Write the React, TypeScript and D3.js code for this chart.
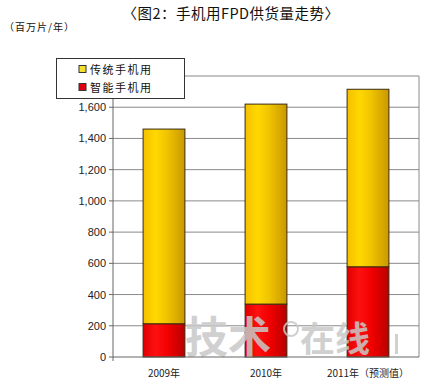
import { useMemo } from 'react'
import * as d3 from 'd3'

const W = 424
const H = 392
const PLOT = { left: 113, right: 419, top: 76, bottom: 357 }

const CATEGORIES = ['2009年', '2010年', '2011年（预测值）']
const SMART = [213, 339, 578]
const TRADITIONAL = [1247, 1281, 1137] // totals ~1460, 1620, 1715
const Y_TICKS = [0, 200, 400, 600, 800, 1000, 1200, 1400, 1600]
const SERIES = [
  { key: 'traditional', label: '传统手机用', values: TRADITIONAL, fill: 'url(#gYellow)', swatch: '#f2e030' },
  { key: 'smart', label: '智能手机用', values: SMART, fill: 'url(#gRed)', swatch: '#e00010' },
]

const CJK = "'Noto Sans CJK SC', 'Noto Sans', sans-serif"
const SANS = "'Liberation Sans', Arial, sans-serif"

export default function App() {
  const x = useMemo(
    () => d3.scaleBand<string>().domain(CATEGORIES).range([PLOT.left, PLOT.right]).paddingInner(0.59).paddingOuter(0.295),
    []
  )
  const y = useMemo(() => d3.scaleLinear().domain([0, 1800]).range([PLOT.bottom, PLOT.top]), [])

  const stacks = useMemo(() => {
    const rows = CATEGORIES.map((c, i) => ({ cat: c, smart: SMART[i], traditional: TRADITIONAL[i] }))
    return d3.stack<any>().keys(['smart', 'traditional'])(rows)
  }, [])

  const fillFor = (key: string) => SERIES.find((s) => s.key === key)!.fill

  return (
    <svg width={W} height={H} style={{ position: 'absolute', left: 0, top: 0, background: '#fff' }}>
      <defs>
        <linearGradient id="gYellow" x1="0" x2="1" y1="0" y2="0">
          <stop offset="0" stopColor="#f5c000" />
          <stop offset="0.3" stopColor="#ffd800" />
          <stop offset="0.55" stopColor="#f2c600" />
          <stop offset="1" stopColor="#c99800" />
        </linearGradient>
        <linearGradient id="gRed" x1="0" x2="1" y1="0" y2="0">
          <stop offset="0" stopColor="#e00000" />
          <stop offset="0.3" stopColor="#ff1010" />
          <stop offset="0.6" stopColor="#f00000" />
          <stop offset="1" stopColor="#b80000" />
        </linearGradient>
      </defs>

      {/* title */}
      <text x={231} y={19} textAnchor="middle" fontFamily={CJK} fontSize={14.5} fill="#111" letterSpacing={0.5}>
        〈图2：手机用FPD供货量走势〉
      </text>
      <text x={4} y={31} fontFamily={CJK} fontSize={10} fill="#111" letterSpacing={1}>（百万片/年）</text>

      {/* grid */}
      {Y_TICKS.filter((t) => t > 0).map((t) => (
        <line key={t} x1={PLOT.left} x2={PLOT.right} y1={y(t)} y2={y(t)} stroke="#8a8a8a" strokeWidth={1} />
      ))}
      <line x1={PLOT.left} x2={PLOT.right} y1={PLOT.top} y2={PLOT.top} stroke="#8a8a8a" />
      <line x1={PLOT.right} x2={PLOT.right} y1={PLOT.top} y2={PLOT.bottom} stroke="#8a8a8a" />

      {/* bars */}
      {stacks.map((layer) =>
        layer.map((d, i) => (
          <rect
            key={layer.key + i}
            x={x(CATEGORIES[i])!}
            width={x.bandwidth()}
            y={y(d[1])}
            height={y(d[0]) - y(d[1])}
            fill={fillFor(layer.key)}
            stroke="#3a2a10"
            strokeWidth={1}
          />
        ))
      )}

      {/* watermark */}
      <g fill="#c8c8c8" fontFamily={CJK} fontWeight="bold" opacity={0.85}>
        <text x={185} y={353} fontSize={43}>技术</text>
        <circle cx={291} cy={329} r={7} fill="none" stroke="#c8c8c8" strokeWidth={2} />
        <text x={300} y={352} fontSize={35}>在线</text>
        <rect x={395} y={334} width={3} height={20} />
      </g>

      {/* axes */}
      <line x1={PLOT.left} x2={PLOT.left} y1={PLOT.top} y2={PLOT.bottom + 4} stroke="#666" />
      <line x1={PLOT.left} x2={PLOT.right} y1={PLOT.bottom} y2={PLOT.bottom} stroke="#666" />
      {Y_TICKS.map((t) => (
        <g key={t}>
          <line x1={PLOT.left - 4} x2={PLOT.left} y1={y(t)} y2={y(t)} stroke="#666" />
          <text x={PLOT.left - 7} y={y(t) + 4} textAnchor="end" fontFamily={SANS} fontSize={11} fill="#222">
            {d3.format(',')(t)}
          </text>
        </g>
      ))}
      {CATEGORIES.map((c) => (
        <text key={c} x={x(c)! + x.bandwidth() / 2} y={377} textAnchor="middle" fontFamily={CJK} fontSize={10} fill="#222">
          {c}
        </text>
      ))}

      {/* legend */}
      <rect x={56.5} y={58.5} width={128} height={40} fill="#fff" stroke="#333" />
      {SERIES.map((s, i) => (
        <g key={s.key} transform={`translate(79,${70 + i * 18})`}>
          <rect x={0} y={-4.5} width={7} height={7} fill={s.swatch} stroke="#333" strokeWidth={1} />
          <text x={11} y={3.5} fontFamily={CJK} fontSize={11} fill="#111" letterSpacing={1.5}>{s.label}</text>
        </g>
      ))}
    </svg>
  )
}
